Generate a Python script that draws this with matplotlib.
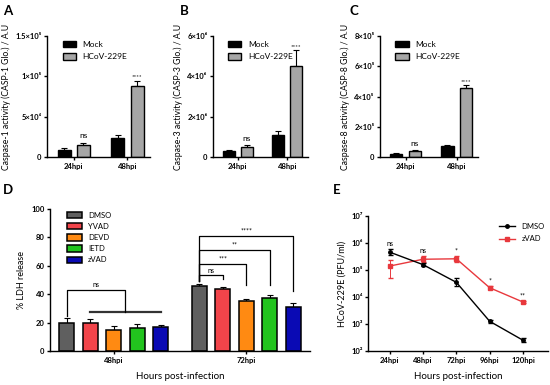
import matplotlib
matplotlib.use("Agg")
import matplotlib.pyplot as plt
import matplotlib.patches as mpatches
import matplotlib.lines as mlines
import numpy as np

plt.rcParams['font.family'] = ['Lato', 'DejaVu Sans']
plt.rcParams['font.weight'] = 'bold'
plt.rcParams['axes.linewidth'] = 1.0

# ---- data ----
groups_top = ['24hpi', '48hpi']

casp1_mock = [9200, 23000]
casp1_mock_err = [2500, 4000]
casp1_hcov = [14600, 87500]
casp1_hcov_err = [2900, 7100]

casp3_mock = [0.30e6, 1.07e6]
casp3_mock_err = [0.04e6, 0.20e6]
casp3_hcov = [0.48e6, 4.50e6]
casp3_hcov_err = [0.10e6, 0.80e6]

casp8_mock = [0.20e5, 0.73e5]
casp8_mock_err = [0.06e5, 0.07e5]
casp8_hcov = [0.37e5, 4.53e5]
casp8_hcov_err = [0.07e5, 0.22e5]

ldh_groups = ['48hpi', '72hpi']
inhibitors = ['DMSO', 'YVAD', 'DEVD', 'IETD', 'zVAD']
ldh_vals = [[20.0, 45.5], [19.5, 43.5], [15.0, 35.0], [16.5, 37.5], [17.0, 31.0]]
ldh_err = [[3.0, 1.5], [3.0, 1.5], [2.5, 1.5], [2.5, 2.0], [1.5, 3.0]]
ldh_colors = ['#5f5f5f', '#f2444a', '#ff8a12', '#22c41e', '#0a0ab4']

time_labels = ['24hpi', '48hpi', '72hpi', '96hpi', '120hpi']
dmso_pfu = [4.6e5, 1.58e5, 3.5e4, 1.26e3, 2.5e2]
dmso_lo = [3.5e5, 1.4e5, 2.6e4, 1.1e3, 2.1e2]
dmso_hi = [6.0e5, 1.8e5, 5.0e4, 1.45e3, 3.0e2]
zvad_pfu = [1.4e5, 2.5e5, 2.6e5, 2.2e4, 6.5e3]
zvad_lo = [5.0e4, 1.9e5, 2.0e5, 1.9e4, 6.0e3]
zvad_hi = [2.3e5, 3.3e5, 3.3e5, 2.6e4, 7.2e3]
e_sig = ['ns', 'ns', '*', '*', '**']

W, H = 550, 385
fig = plt.figure(figsize=(5.5, 3.85), dpi=100)


def fax(x0, y0, x1, y1):
    # pixel box (top-left origin) -> figure axes
    return fig.add_axes([x0 / W, 1 - y1 / H, (x1 - x0) / W, (y1 - y0) / H])


def style(ax):
    ax.spines['top'].set_visible(False)
    ax.spines['right'].set_visible(False)
    ax.tick_params(axis='both', length=2.5, width=1.0, labelsize=5.5, pad=1.5)


def top_panel(ax, mock, mock_err, hcov, hcov_err, ymax, ticks, ticklabels, ylabel):
    x = np.arange(len(groups_top))
    off = 0.18
    w = 0.24
    ax.bar(x - off, mock, w, color='black', edgecolor='black', linewidth=1.0, zorder=2)
    ax.bar(x + off, hcov, w, color='#a6a6a6', edgecolor='black', linewidth=1.0, zorder=2)
    ax.errorbar(x - off, mock, yerr=[np.zeros(2), mock_err], fmt='none', ecolor='black',
                elinewidth=0.8, capsize=2.2, capthick=0.8, zorder=1)
    ax.errorbar(x + off, hcov, yerr=[np.zeros(2), hcov_err], fmt='none', ecolor='black',
                elinewidth=0.8, capsize=2.2, capthick=0.8, zorder=1)
    ax.text(x[0] + off, hcov[0] + hcov_err[0] + ymax * 0.03, 'ns', ha='center', va='bottom',
            fontsize=6, fontweight='normal')
    ax.text(x[1] + off, hcov[1] + hcov_err[1] + ymax * 0.01, '****', ha='center', va='bottom',
            fontsize=4.5, fontweight='normal')
    ax.set_xlim(-0.5, 1.42)
    ax.set_ylim(0, ymax)
    ax.set_yticks(ticks)
    ax.set_yticklabels(ticklabels)
    ax.set_xticks(x)
    ax.set_xticklabels(groups_top, fontsize=6)
    ax.set_ylabel(ylabel, fontsize=6.2, labelpad=3)
    style(ax)
    h1 = mpatches.Patch(facecolor='black', edgecolor='black')
    h2 = mpatches.Patch(facecolor='#a6a6a6', edgecolor='black')
    ax.legend([h1, h2], ['Mock', 'HCoV-229E'], loc='upper left', bbox_to_anchor=(0.08, 1.02),
              frameon=False, handlelength=1.6, handleheight=0.8,
              labelspacing=0.6, prop={'weight': 'normal', 'size': 6})


axA = fax(47, 36, 150, 157)
top_panel(axA, casp1_mock, casp1_mock_err, casp1_hcov, casp1_hcov_err, 1.5e5,
          [0, 5e4, 1e5, 1.5e5], ['0', '5×10⁴', '1×10⁵', '1.5×10⁵'],
          'Caspase-1 activity (CASP-1 Glo.) / A.U')
axB = fax(213, 36, 308, 157)
top_panel(axB, casp3_mock, casp3_mock_err, casp3_hcov, casp3_hcov_err, 6e6,
          [0, 2e6, 4e6, 6e6], ['0', '2×10⁶', '4×10⁶', '6×10⁶'],
          'Caspase-3 activity (CASP-3 Glo.) / A.U')
axC = fax(380, 36, 478, 157)
top_panel(axC, casp8_mock, casp8_mock_err, casp8_hcov, casp8_hcov_err, 8e5,
          [0, 2e5, 4e5, 6e5, 8e5], ['0', '2×10⁵', '4×10⁵', '6×10⁵', '8×10⁵'],
          'Caspase-8 activity (CASP-8 Glo.) / A.U')

# ---- panel D ----
axD = fax(50, 209, 310, 351)
xg = np.arange(len(ldh_groups))
step = 0.177
bw = 0.115
centers = []
for i, name in enumerate(inhibitors):
    xs = xg + (i - 2) * step
    centers.append(xs)
    axD.bar(xs, ldh_vals[i], bw, color=ldh_colors[i], edgecolor='black', linewidth=1.1,
            label=name, zorder=2)
    axD.errorbar(xs, ldh_vals[i], yerr=[np.zeros(2), ldh_err[i]], fmt='none', ecolor='black',
                 elinewidth=0.8, capsize=2, capthick=0.8, zorder=1)
axD.set_xlim(-0.48, 1.48)
axD.set_ylim(0, 100)
axD.set_yticks([0, 20, 40, 60, 80, 100])
axD.set_xticks(xg)
axD.set_xticklabels(ldh_groups, fontsize=6)
axD.set_ylabel('% LDH release', fontsize=6.5, labelpad=4)
axD.set_xlabel('Hours post-infection', fontsize=7, labelpad=6)
style(axD)
axD.legend(loc='upper left', bbox_to_anchor=(0.04, 1.03), frameon=False,
           handlelength=1.9, handleheight=0.9, labelspacing=0.55,
           prop={'weight': 'normal', 'size': 5.5})

lw = 0.9
# 48hpi: DMSO vs rest
c48 = [c[0] for c in centers]
mid = (c48[1] + c48[4]) / 2
axD.plot([c48[1], c48[4]], [27.5, 27.5], color='#333333', lw=1.6)
axD.plot([c48[0], c48[0], mid, mid], [25, 42.8, 42.8, 27.5], color='black', lw=lw)
axD.text((c48[0] + mid) / 2, 44.5, 'ns', ha='center', va='bottom', fontsize=5, fontweight='normal')
# 72hpi: DMSO vs each inhibitor
c72 = [c[1] for c in centers]
brackets = [(1, 53.4, 51.0, 'ns'), (2, 61.2, 46.5, '***'), (3, 71.0, 46.8, '**'), (4, 81.2, 42.0, '****')]
for j, yh, yend, lab in brackets:
    axD.plot([c72[0], c72[0], c72[j], c72[j]], [49.5, yh, yh, yend], color='black', lw=lw)
    axD.text((c72[0] + c72[j]) / 2, yh + 1.0, lab, ha='center', va='bottom', fontsize=5,
             fontweight='normal')

# ---- panel E ----
axE = fax(368, 216, 548, 351)
xt = np.arange(len(time_labels))
axE.errorbar(xt, dmso_pfu, yerr=[np.subtract(dmso_pfu, dmso_lo), np.subtract(dmso_hi, dmso_pfu)],
             color='black', marker='o', markersize=2.5, lw=1.0, elinewidth=0.7, capsize=1.8,
             label='DMSO', zorder=3)
axE.errorbar(xt, zvad_pfu, yerr=[np.subtract(zvad_pfu, zvad_lo), np.subtract(zvad_hi, zvad_pfu)],
             color='#e8383d', marker='s', markersize=2.5, lw=1.0, elinewidth=0.7, capsize=1.8,
             label='zVAD', zorder=2)
axE.set_yscale('log')
axE.set_ylim(1e2, 1e7)
axE.set_yticks([1e2, 1e3, 1e4, 1e5, 1e6, 1e7])
axE.set_yticklabels(['10²', '10³', '10⁴', '10⁵', '10⁶', '10⁷'])
axE.yaxis.set_minor_locator(matplotlib.ticker.NullLocator())
axE.set_xlim(-0.65, 4.75)
axE.set_xticks(xt)
axE.set_xticklabels(time_labels, fontsize=6)
axE.set_ylabel('HCoV-229E (PFU/ml)', fontsize=6.5, labelpad=3)
axE.set_xlabel('Hours post-infection', fontsize=7, labelpad=6)
style(axE)
tops = np.maximum(dmso_hi, zvad_hi)
for i, lab in enumerate(e_sig):
    axE.text(xt[i], tops[i] * 1.15, lab, ha='center', va='bottom', fontsize=5, fontweight='normal')
hd = mlines.Line2D([], [], color='black', marker='o', markersize=2.5, lw=1.0)
hz = mlines.Line2D([], [], color='#e8383d', marker='s', markersize=2.5, lw=1.0)
axE.legend([hd, hz], ['DMSO', 'zVAD'], loc='upper right', bbox_to_anchor=(1.02, 1.0),
           frameon=False, handlelength=2.2, labelspacing=0.7,
           prop={'weight': 'normal', 'size': 5.5})

# panel letters
for lab, px, py in [('A', 3, 5), ('B', 180, 5), ('C', 350, 5), ('D', 3, 184), ('E', 333, 184)]:
    fig.text(px / W, 1 - py / H, lab, fontsize=9.5, fontweight='bold', va='top', ha='left')

fig.savefig('out.png', dpi=100)
